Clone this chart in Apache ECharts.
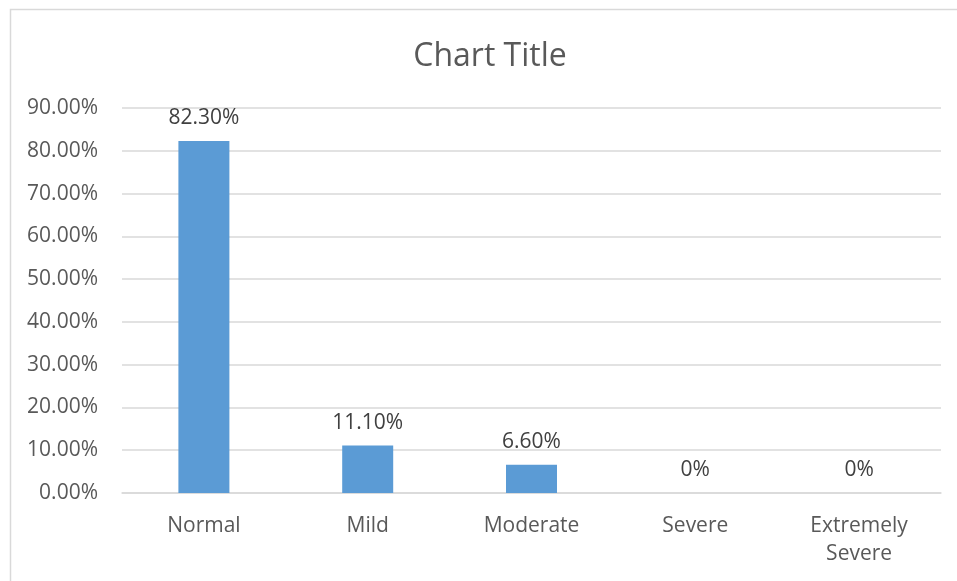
<!DOCTYPE html>
<html>
<head>
<meta charset="utf-8">
<script src="https://cdn.jsdelivr.net/npm/echarts@6/dist/echarts.min.js"></script>
<style>
  html, body { margin: 0; padding: 0; background: #fff; }
  #chart { width: 957px; height: 581px; }
</style>
</head>
<body>
<div id="chart"></div>
<script>
// values
const categories = ['Normal', 'Mild', 'Moderate', 'Severe', 'Extremely\nSevere'];
const percents = [82.3, 11.1, 6.6, 0, 0];
const yTicks = { min: 0, max: 90, step: 10 };

const textColor = '#595959';
const fontFamily = '"Open Sans", Lato, sans-serif';

const chart = echarts.init(document.getElementById('chart'));
chart.setOption({
  animation: false,
  backgroundColor: '#fff',
  textStyle: { fontFamily: fontFamily },
  title: {
    text: 'Chart Title',
    left: 485,
    top: 36,
    textAlign: 'center',
    textStyle: { fontSize: 32, fontWeight: 'normal', color: textColor, fontFamily: fontFamily }
  },
  graphic: [{
    type: 'rect',
    shape: { x: 10.5, y: 9.5, width: 1000, height: 700 },
    style: { fill: 'none', stroke: '#d9d9d9', lineWidth: 1.5 },
    silent: true
  }],
  grid: { left: 122, right: 16, top: 108, bottom: 88 },
  xAxis: {
    type: 'category',
    data: categories,
    axisLine: { lineStyle: { color: '#d9d9d9', width: 1.5 } },
    axisTick: { show: false },
    axisLabel: { color: textColor, fontSize: 21, margin: 19, lineHeight: 28, interval: 0 }
  },
  yAxis: {
    type: 'value',
    min: yTicks.min,
    max: yTicks.max,
    interval: yTicks.step,
    axisLine: { show: false },
    axisTick: { show: false },
    splitLine: { lineStyle: { color: '#d9d9d9', width: 1.5 } },
    axisLabel: {
      color: textColor,
      fontSize: 21,
      margin: 24,
      formatter: v => v.toFixed(2) + '%'
    }
  },
  series: [{
    type: 'bar',
    data: percents,
    barWidth: 51,
    itemStyle: { color: '#5b9bd5' },
    label: {
      show: true,
      position: 'top',
      distance: 12,
      color: '#404040',
      fontSize: 21,
      formatter: p => p.value === 0 ? '0%' : p.value.toFixed(2) + '%'
    }
  }]
});
</script>
</body>
</html>
